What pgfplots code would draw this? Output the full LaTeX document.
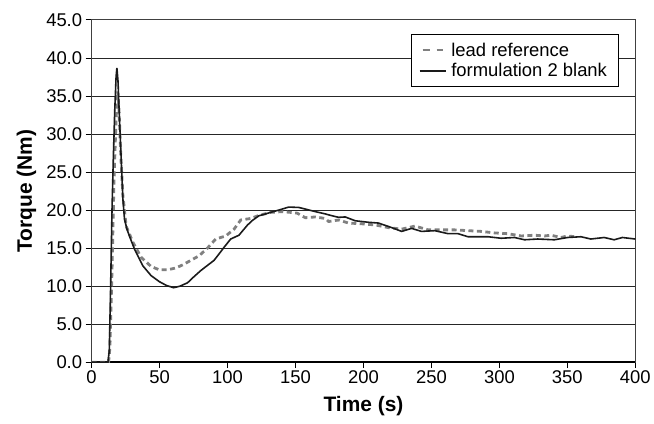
\documentclass[border=0pt]{standalone}
\usepackage{fontspec}
\setmainfont{Liberation Sans}
\usepackage{pgfplots}
\pgfplotsset{compat=1.18}

\definecolor{leadgray}{RGB}{128,128,128}
\definecolor{blankline}{RGB}{26,26,26}

\begin{document}
\begin{tikzpicture}
\begin{axis}[
    scale only axis,
    width=546pt, height=343.8pt,
    xmin=0, xmax=400, ymin=0, ymax=45,
    xtick={0,50,...,400},
    ytick={0,5,...,45},
    xtick pos=bottom, ytick pos=left,
    tick align=outside,
    major tick length=6pt,
    tick style={black, line width=0.9pt},
    axis line style={black!75, line width=1pt},
    ymajorgrids,
    grid style={black!85, line width=0.9pt},
    extra y ticks={0},
    extra y tick labels={},
    extra y tick style={grid style={black, line width=2.2pt}},
    /pgf/number format/assume math mode=true,
    yticklabel style={/pgf/number format/.cd, fixed, fixed zerofill, precision=1},
    tick label style={font=\fontsize{18.5}{22}\selectfont},
    xticklabel style={inner ysep=2pt},
    xlabel={Time (s)},
    ylabel={Torque (Nm)},
    label style={font=\fontsize{21}{24}\selectfont\bfseries},
    xlabel style={at={(axis description cs:0.5,0)}, anchor=north, yshift=-31pt},
    ylabel style={at={(axis description cs:0,0.5)}, anchor=south, yshift=52pt},
    legend style={at={(0.588,0.958)}, anchor=north west, draw=black,
        line width=0.8pt, fill=white, font=\fontsize{18.5}{22}\selectfont,
        inner xsep=7pt, inner ysep=7pt, row sep=4pt,
        nodes={inner xsep=4pt, inner ysep=1pt}},
    legend cell align=left,
    legend image code/.code={\draw[#1, line width=1.8pt] (0pt,0pt) -- (27pt,0pt);},
]
% lead reference
\addplot[leadgray, line width=2.8pt, dash pattern=on 5pt off 3.5pt,
    legend image post style={dash pattern=on 7pt off 7pt, dash phase=-3pt, line width=2.6pt}] coordinates {
(0,0) (12.5,0) (13.5,2) (15,12) (16.5,24) (18,32) (19.2,35.6) (20.2,33)
(21.5,27) (23,22) (25.4,17.9) (30.3,15.8) (36.4,13.8) (43.7,12.6)
(49.8,12.15) (55.9,12.15) (62,12.4) (67,12.8) (73,13.4) (79.1,14.0)
(85.2,15.0) (91.3,16.2) (98.7,16.6) (104.8,17.5) (109.7,18.7) (117,18.9)
(123,19.3) (131.6,19.7) (140.2,19.8) (146.3,19.7) (151.2,19.6) (157.3,19.0)
(164.6,19.1) (171.9,18.9) (174.4,18.5) (181.7,18.7) (189,18.3) (198.8,18.2)
(208.6,18.05) (218.3,17.7) (228.1,17.5) (237.9,17.9) (247.6,17.4)
(257.4,17.4) (267.2,17.4) (276.9,17.3) (286.7,17.2) (296.5,17.0)
(306.2,16.9) (316,16.6) (325.8,16.7) (333.1,16.6) (338,16.7) (345.3,16.4)
(350,16.6) (356,16.5)
};
\addlegendentry{lead reference}
% formulation 2 blank
\addplot[blankline, line width=1.6pt] coordinates {
(0,0) (12,0) (13,1.5) (14,10) (15,20) (16,27) (17,33) (18,37.5) (18.6,38.7)
(19.4,37) (20.5,32) (21.7,27) (23,21.5) (24.2,18.8) (26,17.5) (27.8,16.6)
(31.5,14.9) (37.6,12.7) (43.7,11.4) (49.8,10.6) (55,10.1) (60.3,9.8)
(65,10.0) (70.6,10.45) (75,11.2) (80.3,12.05) (85,12.7) (90.1,13.4)
(94,14.3) (97.4,15.1) (102.3,16.2) (108.4,16.7) (114.5,18.0) (118,18.6)
(123,19.25) (128,19.5) (131.6,19.7) (137.7,20.0) (145,20.4) (152.4,20.35)
(158,20.1) (164.6,19.8) (171.9,19.5) (176,19.3) (181.7,19.05) (186.6,19.1)
(193.9,18.6) (203.7,18.4) (211,18.3) (220.8,17.7) (228.1,17.2) (235.4,17.6)
(242.7,17.2) (252.5,17.3) (262.3,16.9) (269.6,16.9) (276.9,16.5)
(291.6,16.5) (301.3,16.3) (311.1,16.4) (318.5,16.1) (328.2,16.2)
(340.4,16.1) (350.2,16.4) (360,16.5) (367.3,16.2) (377.1,16.4)
(384.4,16.1) (390.5,16.4) (400,16.2)
};
\addlegendentry{formulation 2 blank}
\end{axis}
\path ([shift={(-92pt,-61.2pt)}]current axis.south west)
    rectangle ([shift={(16pt,20pt)}]current axis.north east);
\end{tikzpicture}
\end{document}
